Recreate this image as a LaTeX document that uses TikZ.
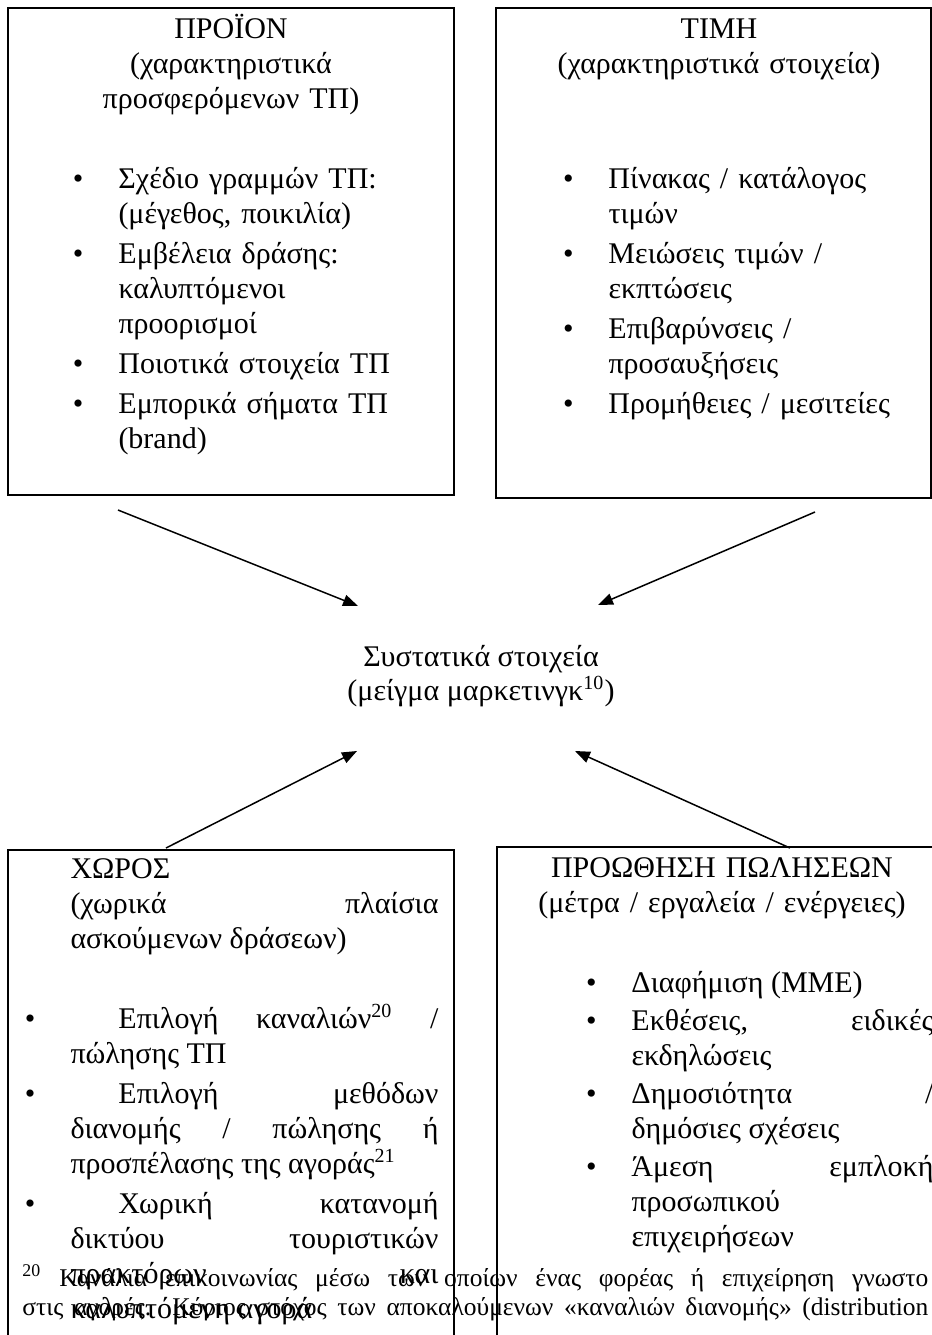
\documentclass[tikz,border=0pt]{standalone}
\usepackage{fontspec}
\setmainfont{Liberation Serif}
\usepackage{tikz}
\usetikzlibrary{arrows.meta}

% bullet items: plain and with first-line indent
\newcommand\bul{\noindent\llap{\textbullet\hspace{14pt}}}
\newcommand\bulj{\noindent\llap{\textbullet\hspace{14pt}}\hspace{19.2pt}}

\begin{document}
\begin{tikzpicture}[x=0.4pt,y=-0.4pt,
    box/.style={draw,line width=0.8pt},
    ttl/.style={inner sep=0pt,anchor=base,align=center},
    lst/.style={inner sep=0pt,anchor=base west},
    arr/.style={-{Triangle[length=6pt,width=4.6pt]},line width=0.6pt},
    every node/.style={font=\fontsize{12}{14}\selectfont}]
    \useasboundingbox (0,0) rectangle (932,1335);
    \clip (0,0) rectangle (932,1335);

    % draw boxes
    \draw[box] (8,8) rectangle (454,495);
    \draw[box] (496,8) rectangle (931,498);
    \draw[box] (8,850) rectangle (454,1400);
    \draw[box] (497,847) rectangle (945,1400);

    % draw texts of upper boxes
    \node[ttl,text width=178.4pt] (proion) at (231,38)
      {ΠΡΟΪΟΝ\\(χαρακτηριστικά\\προσφερόμενων ΤΠ)};
    \node[lst,text width=128.8pt,align=left] (proion-list) at (118,188)
      {\setlength{\parskip}{2pt}%
       \bul Σχέδιο γραμμών ΤΠ:\\(μέγεθος, ποικιλία)\par
       \bul Εμβέλεια δράσης:\\καλυπτόμενοι\\προορισμοί\par
       \bul Ποιοτικά στοιχεία ΤΠ\par
       \bul Εμπορικά σήματα ΤΠ\\(brand)};

    \node[ttl,text width=174pt] (timi) at (719,38)
      {ΤΙΜΗ\\(χαρακτηριστικά στοιχεία)};
    \node[lst,text width=122.8pt,align=left] (timi-list) at (608,188)
      {\setlength{\parskip}{2pt}%
       \bul Πίνακας / κατάλογος\\τιμών\par
       \bul Μειώσεις τιμών /\\εκπτώσεις\par
       \bul Επιβαρύνσεις /\\προσαυξήσεις\par
       \bul Προμήθειες / μεσιτείες};

    % draw middle text
    \node[ttl,font=\fontsize{12}{11.8}\selectfont] (mix) at (481,700)
      {Συστατικά στοιχεία\\ (μείγμα μαρκετινγκ\textsuperscript{10})};

    % draw texts of lower boxes
    \node[lst,text width=147.2pt,align=justify] (choros) at (70,878)
      {ΧΩΡΟΣ\\(χωρικά πλαίσια\linebreak ασκούμενων δράσεων)};
    \node[lst,text width=147.2pt,align=justify] (choros-list) at (70,1028)
      {\setlength{\parskip}{2pt}%
       \bulj Επιλογή καναλιών\textsuperscript{20} /\linebreak πώλησης ΤΠ\par
       \bulj Επιλογή μεθόδων\linebreak διανομής / πώλησης ή\linebreak
             προσπέλασης της αγοράς\textsuperscript{21}\par
       \bulj Χωρική κατανομή\linebreak δικτύου τουριστικών\linebreak
             πρακτόρων και\linebreak καλυπτόμενη αγορά};

    \node[ttl,text width=176pt] (proothisi) at (722,877)
      {ΠΡΟΩΘΗΣΗ ΠΩΛΗΣΕΩΝ\\(μέτρα / εργαλεία / ενέργειες)};
    \node[lst,text width=120.8pt,align=justify] (proothisi-list) at (631,992)
      {\setlength{\parskip}{1.2pt}%
       \bul Διαφήμιση (ΜΜΕ)\par
       \bul Εκθέσεις, ειδικές\linebreak εκδηλώσεις\par
       \bul Δημοσιότητα /\linebreak δημόσιες σχέσεις\par
       \bul Άμεση εμπλοκή\linebreak προσωπικού\newline επιχειρήσεων};

    % draw footnote
    \node[lst,text width=362.4pt,align=justify,font=\fontsize{10.2}{11.6}\selectfont] (fn20) at (22,1286)
      {\parfillskip=0pt \hyphenpenalty=10000 \textsuperscript{20}\ Κανάλια επικοινωνίας μέσω
       των οποίων ένας φορέας ή επιχείρηση γνωστο\linebreak
       στις αγορές. Κύριος στόχος των αποκαλούμενων «καναλιών διανομής» (distribution\par};

    % draw arrows
    \coordinate (proion-out) at (118,510);
    \coordinate (timi-out) at (815,512);
    \coordinate (choros-out) at (166,848);
    \coordinate (proothisi-out) at (790,848);
    \coordinate (mix-nw) at (358,606);
    \coordinate (mix-ne) at (598,605);
    \coordinate (mix-sw) at (357,751);
    \coordinate (mix-se) at (575,751);
    \draw[arr] (proion-out) -- (mix-nw);
    \draw[arr] (timi-out) -- (mix-ne);
    \draw[arr] (choros-out) -- (mix-sw);
    \draw[arr] (proothisi-out) -- (mix-se);
\end{tikzpicture}
\end{document}
